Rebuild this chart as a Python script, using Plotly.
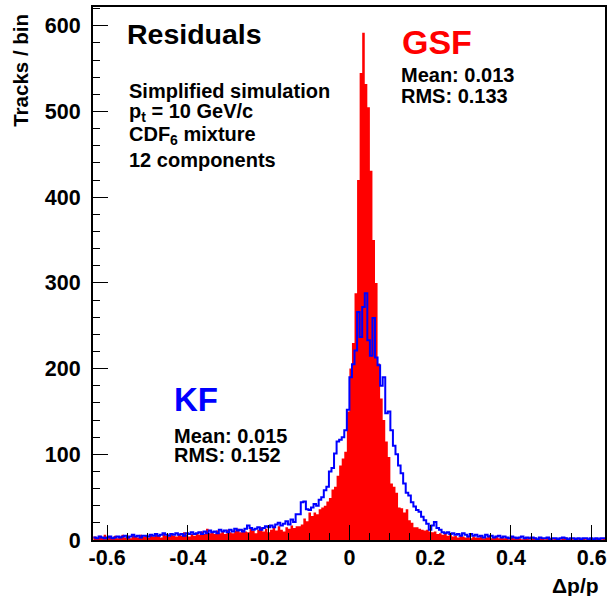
import plotly.graph_objects as go

# ---- data -------------------------------------------------------------
x_lo = -0.634
n_bins = 200
bin_w = 0.00634

gsf_counts = [
    4, 2, 5, 3, 6, 2, 4, 3, 5, 2,
    4, 6, 3, 5, 2, 7, 4, 3, 6, 4,
    5, 3, 7, 4, 6, 5, 3, 8, 5, 4,
    6, 5, 4, 7, 5, 9, 6, 4, 7, 5,
    8, 6, 10, 7, 13, 8, 9, 7, 11, 8,
    10, 7, 12, 9, 8, 11, 13, 9, 12, 10,
    9, 14, 11, 8, 12, 15, 10, 13, 9, 12,
    14, 11, 16, 12, 10, 15, 13, 17, 14, 16,
    16, 18, 25, 22, 32, 28, 32, 30, 36, 38,
    40, 45, 49, 59, 62, 75, 87, 95, 103, 150,
    200, 230, 288, 420, 545, 592, 532, 505, 431, 350,
    300, 206, 165, 140, 115, 97, 66, 62, 55, 38,
    37, 32, 36, 23, 20, 15, 15, 13, 12, 11,
    12, 10, 9, 10, 7, 8, 6, 7, 5, 6,
    4, 5, 3, 6, 4, 3, 5, 2, 4, 3,
    3, 4, 2, 3, 5, 2, 3, 4, 2, 3,
    2, 3, 1, 4, 2, 3, 2, 1, 3, 2,
    1, 2, 3, 1, 2, 2, 1, 3, 2, 1,
    2, 1, 1, 2, 3, 1, 2, 1, 2, 1,
    1, 2, 1, 1, 2, 1, 2, 1, 1, 2,
]

kf_counts = [
    3, 2, 4, 3, 2, 3, 4, 2, 3, 4,
    3, 4, 5, 3, 4, 6, 4, 5, 3, 5,
    5, 4, 6, 5, 7, 5, 6, 8, 6, 5,
    7, 6, 8, 6, 7, 5, 8, 7, 9, 7,
    8, 9, 7, 10, 8, 11, 9, 10, 8, 12,
    10, 11, 9, 12, 10, 13, 11, 12, 10, 13,
    17, 14, 12, 13, 15, 12, 14, 16, 15, 17,
    15, 18, 20, 17, 19, 22, 18, 24, 21, 30,
    30, 44, 45, 36, 35, 38, 42, 40, 47, 50,
    58, 62, 80, 84, 101, 115, 117, 120, 128, 152,
    190, 205, 221, 266, 237, 272, 288, 233, 215, 259,
    213, 204, 180, 190, 148, 150, 128, 110, 100, 87,
    78, 66, 55, 52, 44, 39, 35, 33, 27, 23,
    19, 12, 17, 21, 14, 12, 9, 8, 9, 7,
    8, 6, 7, 5, 8, 6, 4, 7, 5, 6,
    4, 5, 3, 6, 4, 5, 3, 4, 5, 3,
    4, 3, 2, 4, 3, 2, 3, 4, 2, 3,
    2, 3, 2, 1, 3, 2, 2, 3, 1, 2,
    2, 1, 2, 3, 2, 1, 2, 2, 1, 2,
    1, 2, 2, 1, 2, 1, 2, 1, 2, 2,
]

x_tickvals = [-0.6, -0.4, -0.2, 0.0, 0.2, 0.4, 0.6]
x_ticktext = ["-0.6", "-0.4", "-0.2", "0", "0.2", "0.4", "0.6"]
y_tickvals = [0, 100, 200, 300, 400, 500, 600]

# ---- figure -----------------------------------------------------------
edges = [x_lo + i * bin_w for i in range(n_bins + 1)]

W, H = 609, 596
ml, mr, mt, mb = 93, 2, 7, 56
pw, ph = W - ml - mr, H - mt - mb


def px(xp):
    return (xp - ml) / pw


def py(yp):
    return (H - mb - yp) / ph


fig = go.Figure()
fig.add_trace(go.Scatter(
    x=edges, y=gsf_counts + [gsf_counts[-1]],
    mode="lines", line=dict(shape="hv", width=0, color="#ff0000"),
    fill="tozeroy", fillcolor="#ff0000", hoverinfo="skip", showlegend=False,
))
fig.add_trace(go.Scatter(
    x=edges, y=kf_counts + [kf_counts[-1]],
    mode="lines", line=dict(shape="hv", width=2, color="#0000ff"),
    hoverinfo="skip", showlegend=False,
))

FONT = "Liberation Sans, Arial, sans-serif"
TICKFONT = dict(family=FONT, size=21.5, color="black", weight="bold")

fig.update_layout(
    width=W, height=H,
    margin=dict(l=ml, r=mr, t=mt, b=mb),
    paper_bgcolor="white", plot_bgcolor="white",
    font=dict(family=FONT, size=20, color="black", weight="bold"),
    showlegend=False,
)
fig.update_xaxes(
    range=[-0.635, 0.633], showgrid=False, zeroline=False,
    showline=True, linecolor="black", linewidth=2, mirror=True,
    ticks="inside", ticklen=15, tickwidth=1, tickcolor="black",
    tickvals=x_tickvals, ticktext=x_ticktext,
    tickfont=TICKFONT,
    ticklabelstandoff=-3,
    minor=dict(ticks="inside", ticklen=7, tickwidth=1, tickcolor="black",
               dtick=0.05, tick0=0),
)
fig.update_yaxes(
    range=[0, 622], showgrid=False, zeroline=False,
    showline=True, linecolor="black", linewidth=2, mirror=True,
    ticks="inside", ticklen=15, tickwidth=1, tickcolor="black",
    tickvals=y_tickvals,
    tickfont=TICKFONT,
    ticklabelstandoff=6,
    minor=dict(ticks="inside", ticklen=7, tickwidth=1, tickcolor="black",
               dtick=20, tick0=0),
)


def note(text, xp, yp, size=20, color="black", xanchor="left",
         yanchor="middle", angle=0):
    fig.add_annotation(
        text=text, x=px(xp), y=py(yp), xref="paper", yref="paper",
        xanchor=xanchor, yanchor=yanchor, showarrow=False, textangle=angle,
        font=dict(family=FONT, size=size, color=color, weight="bold"),
    )


note("Residuals", 125, 34, size=28.5)
note("Simplified simulation", 127, 91, size=20)
note("p<sub>t</sub> = 10 GeV/c", 127, 113, size=20)
note("CDF<sub>6</sub> mixture", 127, 135, size=20)
note("12 components", 127, 160, size=20)

note("GSF", 401, 42, size=34, color="#ff0000")
note("Mean: 0.013", 400, 75, size=20)
note("RMS: 0.133", 400, 96, size=20)

note("KF", 172, 400, size=33, color="#0000ff")
note("Mean: 0.015", 172, 436, size=20)
note("RMS: 0.152", 172, 455, size=20)

note("Tracks / bin", 20, 12, size=20.5, xanchor="center", yanchor="top",
     angle=-90)
note("\u0394p/p", 603, 585, size=21, xanchor="right")

fig.write_html("out.html")
